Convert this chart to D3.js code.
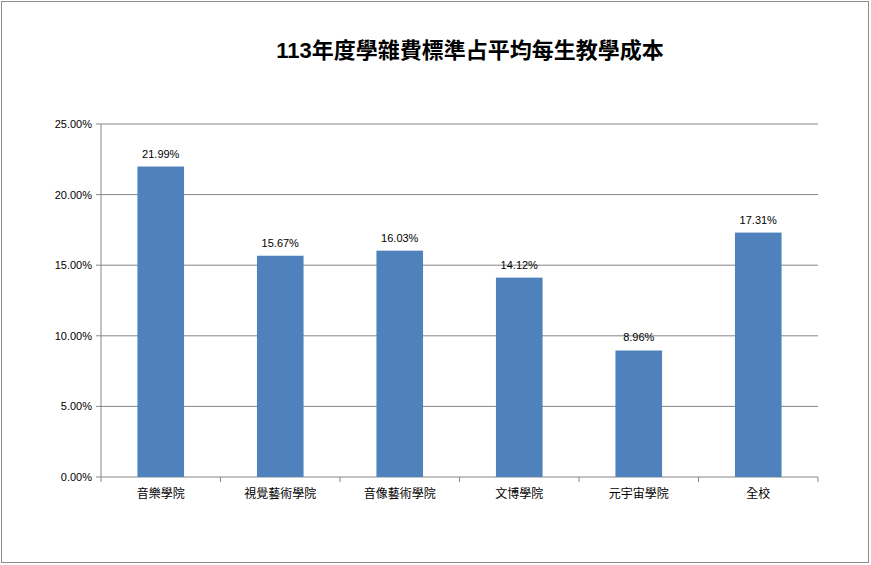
<!DOCTYPE html><html><head><meta charset="utf-8">
<script src="https://cdn.jsdelivr.net/npm/d3@7"></script>
<style>body{margin:0;background:#fff}svg{font-family:"Liberation Sans","Noto Sans CJK TC",sans-serif}</style>
</head><body><svg width="871" height="565"></svg>
<script>
const categories=["音樂學院","視覺藝術學院","音像藝術學院","文博學院","元宇宙學院","全校"];
const values=[21.99,15.67,16.03,14.12,8.96,17.31];
const ticks=[0,5,10,15,20,25];
const svg=d3.select("svg");
svg.append("rect").attr("x",1.5).attr("y",1.5).attr("width",867).attr("height",561).attr("fill","#fff").attr("stroke","#8c8c8c");
const x=d3.scaleBand().domain(categories).range([101,818]).paddingInner(0.61).paddingOuter(0.305);
const y=d3.scaleLinear().domain([0,25]).range([477,124]);
const g=svg.append("g");
g.selectAll("line.grid").data(ticks).join("line").attr("x1",101).attr("x2",818).attr("y1",d=>y(d)).attr("y2",d=>y(d)).attr("stroke","#868686");
g.append("line").attr("x1",101).attr("x2",101).attr("y1",124).attr("y2",477).attr("stroke","#868686");
g.selectAll("line.tk").data(ticks).join("line").attr("x1",96).attr("x2",101).attr("y1",d=>y(d)).attr("y2",d=>y(d)).attr("stroke","#868686");
g.selectAll("text.yt").data(ticks).join("text").attr("x",92).attr("y",d=>y(d)+4).attr("text-anchor","end").attr("font-size",11).text(d=>d.toFixed(2)+"%");
const bw=x.step();
g.selectAll("line.xt").data(d3.range(7)).join("line").attr("x1",d=>101+d*(717/6)).attr("x2",d=>101+d*(717/6)).attr("y1",477).attr("y2",482).attr("stroke","#868686");
g.selectAll("rect.bar").data(values).join("rect").attr("x",(d,i)=>x(categories[i])).attr("width",x.bandwidth()).attr("y",d=>y(d)).attr("height",d=>y(0)-y(d)).attr("fill","#4f81bd");
g.selectAll("text.lab").data(values).join("text").attr("x",(d,i)=>x(categories[i])+x.bandwidth()/2).attr("y",d=>y(d)-9).attr("text-anchor","middle").attr("font-size",11).text(d=>d.toFixed(2)+"%");
g.selectAll("text.xl").data(categories).join("text").attr("x",d=>x(d)+x.bandwidth()/2).attr("y",498).attr("text-anchor","middle").attr("font-size",12).text(d=>d);
svg.append("text").attr("x",470).attr("y",58).attr("text-anchor","middle").attr("font-size",22).attr("font-weight","bold").text("113年度學雜費標準占平均每生教學成本");
</script></body></html>
